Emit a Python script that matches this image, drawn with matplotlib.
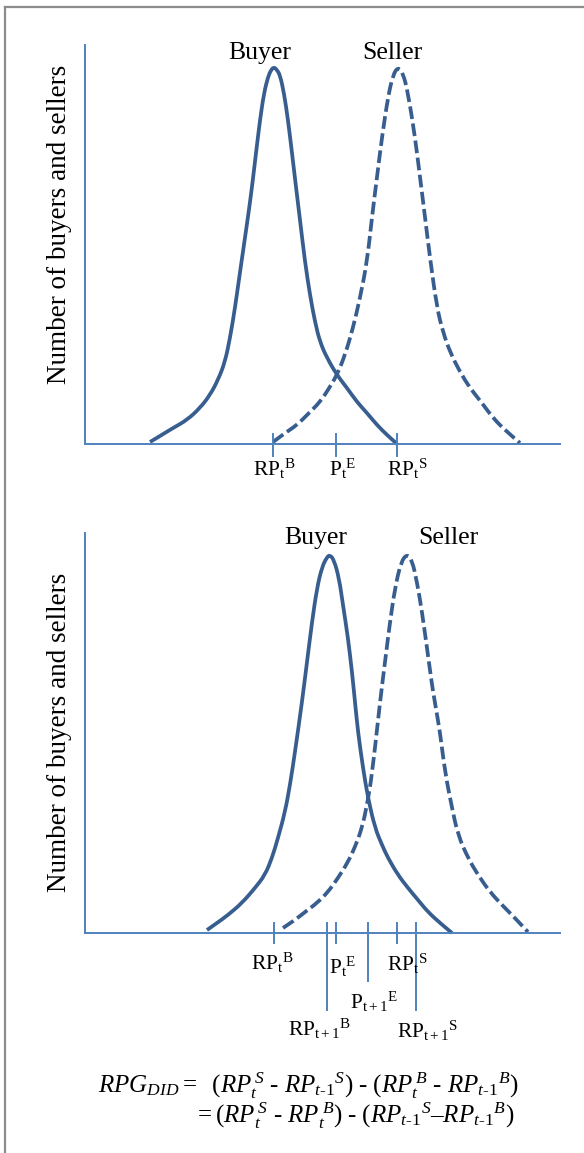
# rpg_did_diagram.py
# Buyer / seller reservation price distributions, period t and t+1, with the RPG DID formula.

import matplotlib
matplotlib.use("Agg")
import matplotlib.pyplot as plt
from matplotlib.lines import Line2D
from matplotlib.path import Path
from matplotlib.patches import PathPatch

plt.rcParams['font.family'] = ['Liberation Serif', 'DejaVu Serif']
plt.rcParams['mathtext.fontset'] = 'custom'
plt.rcParams['mathtext.rm'] = 'Liberation Serif'
plt.rcParams['mathtext.it'] = 'Liberation Serif:italic'
plt.rcParams['mathtext.bf'] = 'Liberation Serif:bold'

CURVE = '#385E8F'
AXIS = '#4F81BD'

# ---- data (price on x, count on y) ----
# period t
top_buyer_x = [65, 75, 88, 102, 115, 125, 133, 140, 145, 150, 155,
               163, 167, 171, 175, 179, 183, 186, 189, 192, 195, 199, 203, 207, 211, 215,
               220, 225, 230, 235, 242, 252, 262, 272, 282, 292, 302, 312]
top_buyer_y = [2, 8, 16, 24, 36, 49, 64, 82, 106, 136, 172,
               227, 257, 291, 324, 351, 367, 374, 377, 374, 369, 351, 324, 291, 257, 224,
               182, 149, 122, 102, 86, 69, 56, 42, 31, 19, 9, 0]
top_seller_x = [188, 200, 212, 223, 235, 243, 252, 260, 268, 275, 282,
                287, 292, 297, 303, 308, 313, 318, 323, 330, 335, 340,
                345, 352, 358, 365, 375, 385, 397, 408, 422, 435]
top_seller_y = [2, 11, 19, 30, 42, 54, 69, 89, 116, 146, 182,
                227, 267, 307, 347, 369, 377, 371, 351, 307, 267, 227,
                186, 136, 112, 92, 72, 56, 41, 26, 12, 1]

# period t+1
bot_buyer_x = [122, 132, 143, 157, 170, 180, 187, 193, 200, 205, 210,
               217, 222, 227, 232, 237, 242, 245, 249, 254, 258, 263, 267, 270,
               273, 278, 283, 290, 297, 303, 313, 323, 333, 343, 355, 367]
bot_buyer_y = [3, 10, 18, 30, 45, 58, 75, 95, 121, 148, 181,
               231, 271, 311, 345, 366, 376, 378, 373, 355, 328, 295, 261, 231,
               201, 165, 135, 105, 88, 75, 58, 45, 33, 21, 10, 0]
bot_seller_x = [198, 210, 220, 232, 243, 253, 263, 270, 277, 282, 287,
                295, 300, 305, 310, 316, 322, 327, 332, 337, 342, 347, 350,
                355, 360, 367, 373, 383, 393, 405, 417, 430, 443]
bot_seller_y = [5, 13, 21, 30, 41, 55, 71, 86, 105, 128, 158,
                231, 271, 311, 345, 371, 379, 373, 351, 321, 285, 248, 230,
                201, 161, 125, 98, 75, 58, 41, 28, 15, 1]

# reference prices on the x axis
top_ticks = [188, 251, 312]
top_labels = [r'$\mathrm{RP}_{\mathrm{t}}{}^{\mathrm{B}}$',
              r'$\mathrm{P}_{\mathrm{t}}{}^{\mathrm{E}}$',
              r'$\mathrm{RP}_{\mathrm{t}}{}^{\mathrm{S}}$']
top_label_x = [168, 244, 302]

bot_ticks = [189, 242, 251, 283, 312, 331]
bot_tick_depth = [10, 77, 10, 48, 10, 77]
bot_labels = [r'$\mathrm{RP}_{\mathrm{t}}{}^{\mathrm{B}}$',
              r'$\mathrm{RP}_{\mathrm{t+1}}{}^{\mathrm{B}}$',
              r'$\mathrm{P}_{\mathrm{t}}{}^{\mathrm{E}}$',
              r'$\mathrm{P}_{\mathrm{t+1}}{}^{\mathrm{E}}$',
              r'$\mathrm{RP}_{\mathrm{t}}{}^{\mathrm{S}}$',
              r'$\mathrm{RP}_{\mathrm{t+1}}{}^{\mathrm{S}}$']
bot_label_x = [166, 203, 244, 265, 302, 312]
bot_label_y = [-18, -84, -22, -57, -19, -86]

W, H = 584, 1153
fig = plt.figure(figsize=(W / 100, H / 100), dpi=100)


def smooth_curve(ax, xs, ys, dashed=False):
    # quadratic bezier through the read points (points act as control points)
    verts = [(xs[0], ys[0])]
    codes = [Path.MOVETO]
    for i in range(1, len(xs) - 1):
        mx = (xs[i] + xs[i + 1]) / 2
        my = (ys[i] + ys[i + 1]) / 2
        if i == len(xs) - 2:
            mx, my = xs[-1], ys[-1]
        verts += [(xs[i], ys[i]), (mx, my)]
        codes += [Path.CURVE3, Path.CURVE3]
    patch = PathPatch(Path(verts, codes), fill=False, edgecolor=CURVE, lw=2.7,
                      capstyle='butt', joinstyle='round', clip_on=False)
    if dashed:
        patch.set_linestyle((0, (3.4, 1.2)))
    ax.add_patch(patch)


def add_panel(bottom_px, top_px, label_y):
    ax = fig.add_axes([85 / W, 1 - bottom_px / H, 475 / W, (bottom_px - top_px) / H])
    ax.set_xlim(0, 475)
    ax.set_ylim(0, bottom_px - top_px)
    for side in ['top', 'right']:
        ax.spines[side].set_visible(False)
    for side in ['left', 'bottom']:
        ax.spines[side].set_color(AXIS)
        ax.spines[side].set_linewidth(1.4)
    ax.set_xticks([])
    ax.set_yticks([])
    ax.patch.set_alpha(0)
    ax.text(-25, label_y, 'Number of buyers and sellers', rotation=90,
            ha='center', va='center', fontsize=19.5, clip_on=False)
    return ax


# ---- period t ----
ax1 = add_panel(444, 45, 220)
smooth_curve(ax1, top_buyer_x, top_buyer_y)
smooth_curve(ax1, top_seller_x, top_seller_y, dashed=True)
ax1.text(175, 385, 'Buyer', ha='center', va='baseline', fontsize=18.5)
ax1.text(307, 385, 'Seller', ha='center', va='baseline', fontsize=18.5)
for t in top_ticks:
    ax1.plot([t, t], [10, -12], color=AXIS, lw=1.4, clip_on=False)
for lx, lab in zip(top_label_x, top_labels):
    ax1.text(lx, -13, lab, ha='left', va='top', fontsize=15.5, clip_on=False)

# ---- period t+1 ----
ax2 = add_panel(933, 533, 201)
smooth_curve(ax2, bot_buyer_x, bot_buyer_y)
smooth_curve(ax2, bot_seller_x, bot_seller_y, dashed=True)
ax2.text(231, 389, 'Buyer', ha='center', va='baseline', fontsize=18.5)
ax2.text(363, 389, 'Seller', ha='center', va='baseline', fontsize=18.5)
for t, d in zip(bot_ticks, bot_tick_depth):
    ax2.plot([t, t], [10, -d], color=AXIS, lw=1.4, clip_on=False)
for lx, ly, lab in zip(bot_label_x, bot_label_y, bot_labels):
    ax2.text(lx, ly, lab, ha='left', va='top', fontsize=15.5, clip_on=False)

# ---- formula ----
line1 = (r'$RPG_{DID} = \ \ (RP_t^{\,S}\ \text{-}\ RP_{t\text{-}1}{}^{S})\ \text{-}\ '
         r'(RP_t^{\,B}\ \text{-}\ RP_{t\text{-}1}{}^{B})$')
line2 = (r'$= (RP_t^{\,S}\ \text{-}\ RP_t^{\,B})\ \text{-}\ '
         r'(RP_{t\text{-}1}{}^{S}\text{–}RP_{t\text{-}1}{}^{B})$')
fig.text(98 / W, 1 - 1093 / H, line1, ha='left', va='baseline', fontsize=18)
fig.text(194 / W, 1 - 1123 / H, line2, ha='left', va='baseline', fontsize=18)

# grey frame (left and top edges visible)
fig.add_artist(Line2D([5 / W, 5 / W], [0, 1 - 7 / H], color='#8C8C8C', lw=1.6))
fig.add_artist(Line2D([5 / W, 1], [1 - 7 / H, 1 - 7 / H], color='#8C8C8C', lw=1.6))

fig.savefig('out.png', dpi=100)
